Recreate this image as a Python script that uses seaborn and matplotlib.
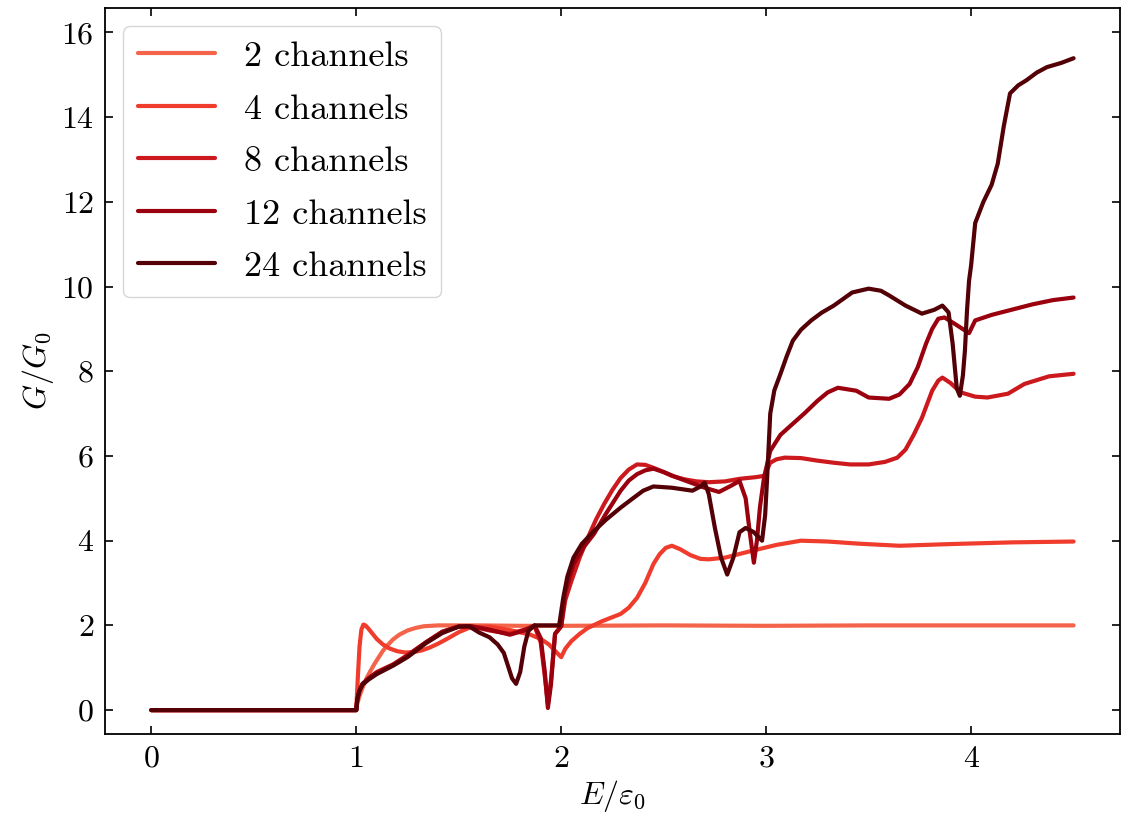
import pandas as pd
import seaborn as sns
import matplotlib.pyplot as plt

# Conductancia G/G0 frente a energía E/eps0 para distinto número de canales
e_2 = [0, 1.0, 1.005, 1.015, 1.03, 1.05, 1.07, 1.09, 1.11, 1.13, 1.15, 1.18, 1.21, 1.25, 1.29, 1.33,
       1.4, 1.48, 1.6, 1.8, 2.0, 2.5, 3.0, 3.5, 4.0, 4.5]
g_2 = [0, 0, 0.15, 0.32, 0.52, 0.75, 0.93, 1.1, 1.25, 1.4, 1.52, 1.67, 1.78, 1.88, 1.94, 1.98,
       2.0, 2.0, 2.0, 1.99, 1.99, 2.0, 1.99, 2.0, 2.0, 2.0]

e_4 = [0, 1.0, 1.008, 1.016, 1.025, 1.035, 1.045, 1.06, 1.08, 1.1, 1.13, 1.16, 1.2, 1.24, 1.28,
       1.32, 1.36, 1.4, 1.45, 1.5, 1.56, 1.65, 1.75, 1.85, 1.9, 1.94, 1.97, 2.0, 2.02, 2.05, 2.09,
       2.13, 2.2, 2.29, 2.33, 2.37, 2.41, 2.45, 2.48, 2.51, 2.54, 2.58, 2.63, 2.68, 2.72, 2.8,
       2.93, 3.05, 3.17, 3.3, 3.45, 3.65, 3.9, 4.2, 4.5]
g_4 = [0, 0, 0.8, 1.5, 1.9, 2.02, 2.0, 1.92, 1.8, 1.68, 1.55, 1.46, 1.39, 1.36, 1.37,
       1.41, 1.48, 1.57, 1.7, 1.84, 1.96, 1.97, 1.89, 1.78, 1.68, 1.55, 1.4, 1.25, 1.45, 1.63, 1.8,
       1.94, 2.1, 2.27, 2.42, 2.65, 3.0, 3.45, 3.68, 3.83, 3.88, 3.8, 3.66, 3.57, 3.56, 3.6,
       3.76, 3.9, 4.0, 3.98, 3.93, 3.88, 3.92, 3.96, 3.98]

e_8 = [0, 1.0, 1.005, 1.015, 1.03, 1.06, 1.1, 1.18, 1.25, 1.34, 1.42, 1.5, 1.56, 1.65, 1.75, 1.82,
       1.87, 1.9, 1.92, 1.935, 1.95, 1.97, 2.0, 2.02, 2.05, 2.09, 2.13, 2.17, 2.21, 2.25, 2.29,
       2.33, 2.37, 2.41, 2.45, 2.5, 2.54, 2.6, 2.66, 2.72, 2.8, 2.87, 2.95, 2.99, 3.02, 3.05, 3.09,
       3.17, 3.25, 3.33, 3.41, 3.5, 3.58, 3.64, 3.68, 3.72, 3.76, 3.81, 3.84, 3.86, 3.9, 3.95, 4.02,
       4.08, 4.18, 4.26, 4.38, 4.5]
g_8 = [0, 0, 0.25, 0.45, 0.6, 0.75, 0.9, 1.08, 1.3, 1.6, 1.85, 1.98, 1.98, 1.88, 1.8, 1.9,
       1.98, 1.6, 0.8, 0.15, 0.7, 1.8, 1.98, 2.6, 3.05, 3.6, 4.07, 4.5, 4.87, 5.2, 5.48,
       5.68, 5.8, 5.79, 5.72, 5.62, 5.53, 5.45, 5.4, 5.38, 5.4, 5.46, 5.5, 5.53, 5.84, 5.92, 5.96,
       5.95, 5.89, 5.84, 5.8, 5.8, 5.86, 5.96, 6.15, 6.5, 6.9, 7.54, 7.78, 7.85, 7.72, 7.5, 7.4,
       7.38, 7.47, 7.7, 7.88, 7.94]

e_12 = [0, 1.0, 1.005, 1.015, 1.03, 1.06, 1.1, 1.18, 1.25, 1.34, 1.42, 1.5, 1.56, 1.65, 1.75, 1.82,
        1.87, 1.9, 1.92, 1.935, 1.95, 1.97, 2.0, 2.02, 2.06, 2.11, 2.16, 2.22, 2.29, 2.33, 2.37,
        2.41, 2.45, 2.5, 2.56, 2.61, 2.7, 2.77, 2.83, 2.87, 2.9, 2.92, 2.94, 2.955, 2.97, 2.99,
        3.02, 3.07, 3.13, 3.19, 3.25, 3.3, 3.35, 3.44, 3.5, 3.6, 3.65, 3.7, 3.74, 3.78, 3.81, 3.84,
        3.87, 3.92, 3.99, 4.02, 4.1, 4.18, 4.3, 4.4, 4.5]
g_12 = [0, 0, 0.25, 0.45, 0.62, 0.75, 0.88, 1.07, 1.28, 1.6, 1.85, 1.97, 1.98, 1.9, 1.78, 1.88,
        2.0, 1.7, 0.9, 0.05, 0.6, 1.8, 1.98, 2.8, 3.45, 3.85, 4.16, 4.65, 5.18, 5.42, 5.57,
        5.66, 5.7, 5.62, 5.5, 5.41, 5.25, 5.15, 5.3, 5.41, 5.0, 4.2, 3.48, 4.0, 4.8, 5.5,
        6.12, 6.5, 6.76, 7.02, 7.3, 7.5, 7.61, 7.54, 7.38, 7.35, 7.45, 7.7, 8.1, 8.65, 9.0, 9.24,
        9.27, 9.12, 8.9, 9.2, 9.33, 9.43, 9.58, 9.68, 9.74]

e_24 = [0, 1.0, 1.005, 1.015, 1.03, 1.06, 1.1, 1.18, 1.25, 1.34, 1.42, 1.5, 1.55, 1.6, 1.65, 1.69,
        1.72, 1.74, 1.76, 1.78, 1.8, 1.82, 1.84, 1.87, 1.99, 2.01, 2.03, 2.06, 2.1, 2.16, 2.22,
        2.29, 2.35, 2.4, 2.45, 2.54, 2.64, 2.68, 2.7, 2.72, 2.75, 2.78, 2.81, 2.84, 2.87, 2.9,
        2.94, 2.98, 2.995, 3.005, 3.02, 3.04, 3.07, 3.1, 3.13, 3.17, 3.22, 3.27, 3.33, 3.42, 3.5,
        3.56, 3.6, 3.68, 3.76, 3.82, 3.86, 3.89, 3.91, 3.93, 3.945, 3.96, 3.97, 3.98, 3.99, 4.0,
        4.02, 4.06, 4.1, 4.13, 4.16, 4.19, 4.23, 4.27, 4.32, 4.37, 4.44, 4.5]
g_24 = [0, 0, 0.25, 0.45, 0.6, 0.72, 0.85, 1.05, 1.25, 1.58, 1.82, 1.97, 1.98, 1.83, 1.72, 1.55,
        1.35, 1.05, 0.75, 0.62, 0.9, 1.5, 1.87, 2.0, 2.0, 2.65, 3.15, 3.6, 3.92, 4.23, 4.5,
        4.78, 5.0, 5.18, 5.28, 5.25, 5.18, 5.28, 5.37, 5.1, 4.3, 3.6, 3.2, 3.6, 4.2, 4.3,
        4.2, 4.0, 4.6, 5.5, 7.0, 7.55, 7.94, 8.35, 8.72, 8.98, 9.2, 9.38, 9.55, 9.86, 9.95,
        9.9, 9.79, 9.55, 9.36, 9.45, 9.55, 9.39, 8.65, 7.6, 7.42, 7.9, 8.5, 9.43, 10.14, 10.5,
        11.5, 12.0, 12.4, 12.9, 13.8, 14.56, 14.75, 14.87, 15.05, 15.18, 15.28, 15.39]

etiquetas = ['2 channels', '4 channels', '8 channels', '12 channels', '24 channels']
colores = ['#f4644a', '#ef3c2d', '#cc191e', '#9a000d', '#530006']

series = [(e_2, g_2), (e_4, g_4), (e_8, g_8), (e_12, g_12), (e_24, g_24)]
df = pd.concat([pd.DataFrame({'E': e, 'G': g, 'canales': lab})
                for (e, g), lab in zip(series, etiquetas)], ignore_index=True)

sns.set_style('ticks')
plt.rcParams['font.family'] = 'serif'
plt.rcParams['font.serif'] = ['cmr10']
plt.rcParams['mathtext.fontset'] = 'cm'
plt.rcParams['axes.unicode_minus'] = False
plt.rcParams['axes.formatter.use_mathtext'] = True
plt.rcParams['text.color'] = 'black'
plt.rcParams['axes.labelcolor'] = 'black'
plt.rcParams['xtick.color'] = 'black'
plt.rcParams['ytick.color'] = 'black'
plt.rcParams['axes.edgecolor'] = 'black'

fig, ax = plt.subplots(figsize=(11.31, 8.25), dpi=100)
sns.lineplot(data=df, x='E', y='G', hue='canales', palette=colores, hue_order=etiquetas,
             sort=False, estimator=None, linewidth=3.0, ax=ax)

ax.set_ylim(-0.57, 16.57)
ax.set_xticks([0, 1, 2, 3, 4])
ax.set_yticks(range(0, 17, 2))
ax.set_xlabel(r'$E/\varepsilon_0$', fontsize=23)
ax.set_ylabel(r'$G/G_0$', fontsize=23)
ax.tick_params(direction='in', top=True, right=True, length=6, width=1.2, labelsize=23, pad=8)
for s in ax.spines.values():
    s.set_linewidth(1.3)

ax.legend(title=None, fontsize=26, handlelength=2.15, loc='upper left', fancybox=True,
          framealpha=0.8, edgecolor='#cccccc', labelspacing=0.56)

plt.subplots_adjust(left=0.093, right=0.99, top=0.99, bottom=0.11)
plt.savefig('out.png', dpi=100)
